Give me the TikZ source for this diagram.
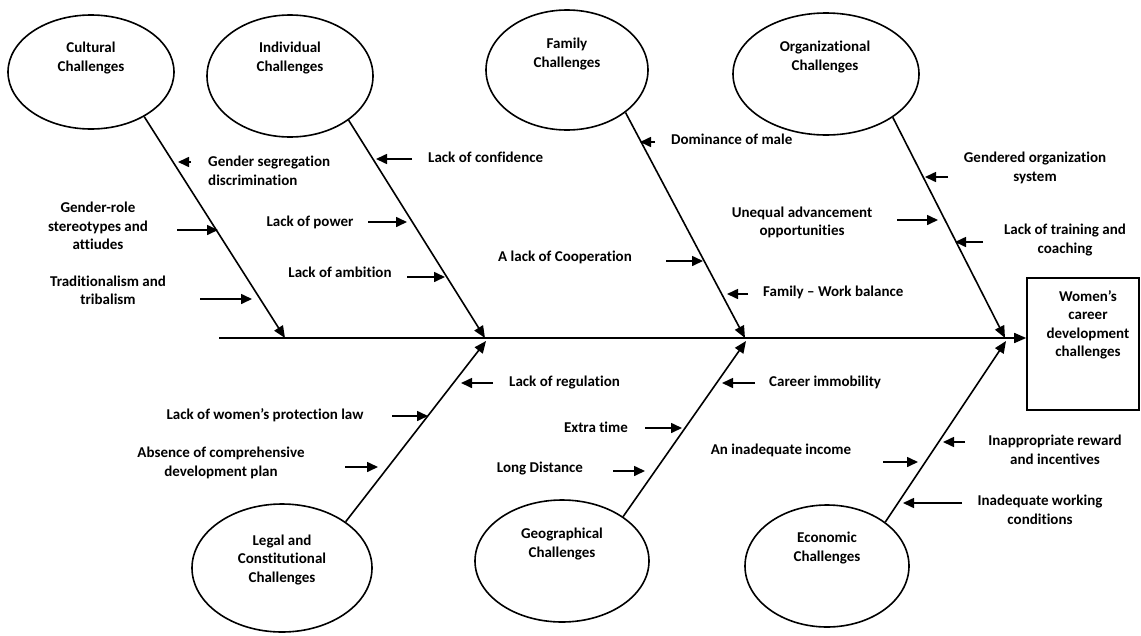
\documentclass[tikz,border=0pt]{standalone}
\usepackage{fontspec}
\setmainfont{Carlito}[Ligatures={TeX,NoCommon}]
\usetikzlibrary{shapes.geometric,arrows.meta}
\begin{document}
\begin{tikzpicture}[x=1pt,y=-1pt,
  every node/.style={font=\fontsize{15}{18.5}\selectfont\bfseries, inner sep=0pt},
  cause/.style={draw, ellipse, line width=1.6pt},
  bone/.style={line width=1.6pt, -{Triangle[length=12pt,width=10pt]}},
  twig/.style={line width=1.6pt, -{Triangle[length=11pt,width=10pt]}},
  lbl/.style={align=center},
  lbll/.style={align=left, anchor=west}]
\useasboundingbox (0,0) rectangle (1141,635);

% category ellipses
\node[cause, minimum width=166, minimum height=114] (cult)  at (91,72)  {};
\node[cause, minimum width=166, minimum height=122] (indiv) at (290,76) {};
\node[cause, minimum width=162, minimum height=120] (fam)   at (567,70) {};
\node[cause, minimum width=186, minimum height=122] (org)   at (826,74) {};
\node[cause, minimum width=180, minimum height=128] (legal) at (282,568) {};
\node[cause, minimum width=174, minimum height=122] (geo)   at (562,561) {};
\node[cause, minimum width=164, minimum height=122] (econ)  at (827,566) {};

\node[lbl] (cultT)  at (91,58)   {Cultural\\Challenges};
\node[lbl] (indivT) at (290,58)  {Individual\\Challenges};
\node[lbl] (famT)   at (567,54)  {Family\\Challenges};
\node[lbl] (orgT)   at (825,57)  {Organizational\\Challenges};
\node[lbl] (legalT) at (282,560) {Legal and\\Constitutional\\Challenges};
\node[lbl] (geoT)   at (562,544) {Geographical\\Challenges};
\node[lbl] (econT)  at (827,548) {Economic\\Challenges};

% effect box
\node[draw, line width=1.6pt, minimum width=112, minimum height=132] (goal) at (1083,344) {};
\node[lbl] (goalT) at (1088,325) {Women’s\\career\\development\\challenges};

% spine
\coordinate (tail) at (219,338);
\coordinate (j1) at (285,338);
\coordinate (j2) at (485,338);
\coordinate (j3) at (745,338);
\coordinate (j4) at (1005,338);
\coordinate (k2) at (486,341);
\coordinate (k3) at (746,341);
\coordinate (k4) at (1006,341);
\draw[bone] (tail) -- (tail -| goal.west);

% main bones
\draw[bone] (cult.-40)  -- (j1);
\draw[bone] (indiv.-37) -- (j2);
\draw[bone] (fam.-36.5) -- (j3);
\draw[bone] (org.-33)   -- (j4);
\draw[bone] (legal.36)  -- (k2);
\draw[bone] (geo.36)    -- (k3);
\draw[bone] (econ.37)   -- (k4);

% cultural causes
\node[lbll] (c1) at (208,171) {Gender segregation\\discrimination};
\coordinate (c1a) at (191,162); \coordinate (c1b) at (178,162);
\draw[twig] (c1a) -- (c1b);
\node[lbl] (c2) at (98,226) {Gender-role\\stereotypes and\\attiudes};
\coordinate (c2a) at (177,230); \coordinate (c2b) at (218,230);
\draw[twig] (c2a) -- (c2b);
\node[lbl] (c3) at (108,290.5) {Traditionalism and\\tribalism};
\coordinate (c3a) at (200,299); \coordinate (c3b) at (252,299);
\draw[twig] (c3a) -- (c3b);

% individual causes
\node[lbll] (i1) at (428,157) {Lack of confidence};
\coordinate (i1a) at (412,159); \coordinate (i1b) at (376,159);
\draw[twig] (i1a) -- (i1b);
\node[lbl] (i2) at (310,222) {Lack of power};
\coordinate (i2a) at (368,222); \coordinate (i2b) at (407,222);
\draw[twig] (i2a) -- (i2b);
\node[lbl] (i3) at (340,272) {Lack of ambition};
\coordinate (i3a) at (407,277); \coordinate (i3b) at (445,277);
\draw[twig] (i3a) -- (i3b);

% family causes
\node[lbll] (f1) at (671,139) {Dominance of male};
\coordinate (f1a) at (655,142); \coordinate (f1b) at (640,142);
\draw[twig] (f1a) -- (f1b);
\node[lbl] (f2) at (565,257) {A lack of Cooperation};
\coordinate (f2a) at (666,261); \coordinate (f2b) at (703,261);
\draw[twig] (f2a) -- (f2b);
\node[lbll] (f3) at (763,292) {Family – Work balance};
\coordinate (f3a) at (748,294); \coordinate (f3b) at (727,294);
\draw[twig] (f3a) -- (f3b);

% organizational causes
\node[lbl] (o1) at (1035,168) {Gendered organization\\system};
\coordinate (o1a) at (948,177); \coordinate (o1b) at (925,177);
\draw[twig] (o1a) -- (o1b);
\node[lbl] (o2) at (802,222.5) {Unequal advancement\\opportunities};
\coordinate (o2a) at (897,220); \coordinate (o2b) at (938,220);
\draw[twig] (o2a) -- (o2b);
\node[lbl] (o3) at (1065,240) {Lack of training and\\coaching};
\coordinate (o3a) at (983,242); \coordinate (o3b) at (955,242);
\draw[twig] (o3a) -- (o3b);

% legal causes
\node[lbll] (l1) at (509,383) {Lack of regulation};
\coordinate (l1a) at (493,383); \coordinate (l1b) at (461,383);
\draw[twig] (l1a) -- (l1b);
\node[lbl] (l2) at (265,415) {Lack of women’s protection law};
\coordinate (l2a) at (392,416); \coordinate (l2b) at (428,416);
\draw[twig] (l2a) -- (l2b);
\node[lbl] (l3) at (221,463) {Absence of comprehensive\\development plan};
\coordinate (l3a) at (345,467); \coordinate (l3b) at (378,467);
\draw[twig] (l3a) -- (l3b);

% geographical causes
\node[lbll] (g1) at (769,382) {Career immobility};
\coordinate (g1a) at (755,383); \coordinate (g1b) at (722,383);
\draw[twig] (g1a) -- (g1b);
\node[lbl] (g2) at (596,427) {Extra time};
\coordinate (g2a) at (645,428); \coordinate (g2b) at (682,428);
\draw[twig] (g2a) -- (g2b);
\node[lbl] (g3) at (540,469) {Long Distance};
\coordinate (g3a) at (613,471); \coordinate (g3b) at (645,471);
\draw[twig] (g3a) -- (g3b);

% economic causes
\node[lbl] (e1) at (1055,450) {Inappropriate reward\\and incentives};
\coordinate (e1a) at (965,442); \coordinate (e1b) at (943,442);
\draw[twig] (e1a) -- (e1b);
\node[lbl] (e2) at (781,450) {An inadequate income};
\coordinate (e2a) at (883,462); \coordinate (e2b) at (918,462);
\draw[twig] (e2a) -- (e2b);
\node[lbl] (e3) at (1040,510) {Inadequate working\\conditions};
\coordinate (e3a) at (962,503); \coordinate (e3b) at (903,503);
\draw[twig] (e3a) -- (e3b);
\end{tikzpicture}
\end{document}
